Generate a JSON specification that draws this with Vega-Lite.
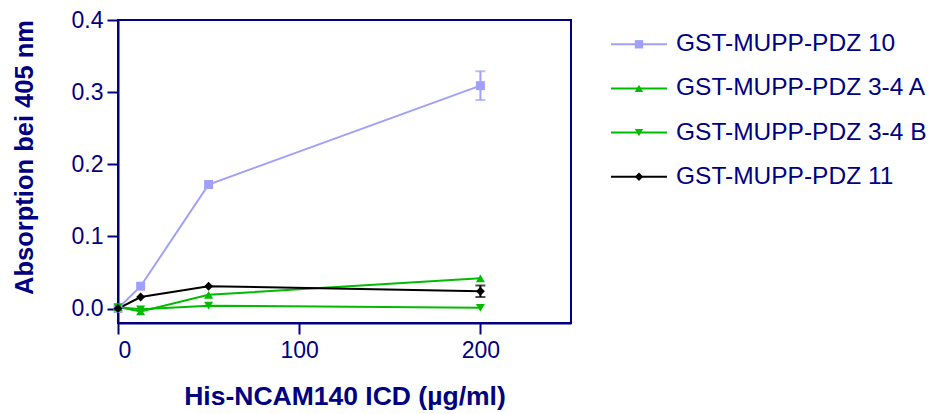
{
  "$schema": "https://vega.github.io/schema/vega-lite/v6.json",
  "padding": {"left": 11, "top": 8, "right": 5, "bottom": 2},
  "background": "white",
  "spacing": 38,
  "datasets": {
    "pts": [
      {"series": "GST-MUPP-PDZ 10", "conc": 0, "abs": 0.0},
      {"series": "GST-MUPP-PDZ 10", "conc": 12.5, "abs": 0.031},
      {"series": "GST-MUPP-PDZ 10", "conc": 50, "abs": 0.172},
      {"series": "GST-MUPP-PDZ 10", "conc": 200, "abs": 0.309},
      {"series": "GST-MUPP-PDZ 3-4 A", "conc": 0, "abs": 0.002},
      {"series": "GST-MUPP-PDZ 3-4 A", "conc": 12.5, "abs": -0.004},
      {"series": "GST-MUPP-PDZ 3-4 A", "conc": 50, "abs": 0.019},
      {"series": "GST-MUPP-PDZ 3-4 A", "conc": 200, "abs": 0.042},
      {"series": "GST-MUPP-PDZ 3-4 B", "conc": 0, "abs": 0.002},
      {"series": "GST-MUPP-PDZ 3-4 B", "conc": 12.5, "abs": -0.001},
      {"series": "GST-MUPP-PDZ 3-4 B", "conc": 50, "abs": 0.004},
      {"series": "GST-MUPP-PDZ 3-4 B", "conc": 200, "abs": 0.001},
      {"series": "GST-MUPP-PDZ 11", "conc": 0, "abs": 0.0},
      {"series": "GST-MUPP-PDZ 11", "conc": 12.5, "abs": 0.016},
      {"series": "GST-MUPP-PDZ 11", "conc": 50, "abs": 0.031},
      {"series": "GST-MUPP-PDZ 11", "conc": 200, "abs": 0.024}
    ],
    "errs": [
      {"series": "GST-MUPP-PDZ 10", "conc": 200, "lo": 0.289, "hi": 0.329},
      {"series": "GST-MUPP-PDZ 11", "conc": 200, "lo": 0.016, "hi": 0.032}
    ],
    "legend": [
      {"series": "GST-MUPP-PDZ 10"},
      {"series": "GST-MUPP-PDZ 3-4 A"},
      {"series": "GST-MUPP-PDZ 3-4 B"},
      {"series": "GST-MUPP-PDZ 11"}
    ]
  },
  "config": {
    "font": "Liberation Sans",
    "view": {"stroke": "#000080", "strokeWidth": 2},
    "axis": {
      "domainColor": "#000080", "domainWidth": 2,
      "tickColor": "#000080", "tickWidth": 2,
      "labelColor": "#000080", "labelFont": "Liberation Sans", "labelFontSize": 23,
      "titleColor": "#000080", "titleFont": "Liberation Sans", "titleFontSize": 25.5, "titleFontWeight": "bold",
      "grid": false
    }
  },
  "hconcat": [
    {
      "width": 453,
      "height": 303,
      "layer": [
        {
          "data": {"name": "pts"},
          "mark": {"type": "line", "strokeWidth": 2},
          "encoding": {
            "x": {"field": "conc", "type": "quantitative",
              "scale": {"domain": [0, 250], "nice": false},
              "axis": {"values": [0, 100, 200], "tickSize": 11, "labelPadding": 5, "title": "His-NCAM140 ICD (µg/ml)", "titleFontSize": 26.5, "titlePadding": 21}},
            "y": {"field": "abs", "type": "quantitative",
              "scale": {"domain": [-0.02, 0.4], "nice": false, "zero": false},
              "axis": {"values": [0, 0.1, 0.2, 0.3, 0.4], "format": ".1f", "tickSize": 11, "labelPadding": 4, "title": "Absorption bei 405 nm", "titlePadding": 34, "titleY": 137}},
            "color": {"field": "series", "type": "nominal",
              "scale": {"domain": ["GST-MUPP-PDZ 10", "GST-MUPP-PDZ 3-4 A", "GST-MUPP-PDZ 3-4 B", "GST-MUPP-PDZ 11"],
                        "range": ["#a0a0fa", "#00bb00", "#00bb00", "#000000"]},
              "legend": null},
            "detail": {"field": "series"}
          }
        },
        {
          "data": {"name": "errs"},
          "mark": {"type": "rule", "strokeWidth": 2},
          "encoding": {
            "x": {"field": "conc", "type": "quantitative"},
            "y": {"field": "lo", "type": "quantitative"},
            "y2": {"field": "hi"},
            "color": {"field": "series", "type": "nominal", "legend": null}
          }
        },
        {
          "data": {"name": "errs"},
          "mark": {"type": "tick", "orient": "horizontal", "size": 10, "thickness": 2},
          "encoding": {
            "x": {"field": "conc", "type": "quantitative"},
            "y": {"field": "lo", "type": "quantitative"},
            "color": {"field": "series", "type": "nominal", "legend": null}
          }
        },
        {
          "data": {"name": "errs"},
          "mark": {"type": "tick", "orient": "horizontal", "size": 10, "thickness": 2},
          "encoding": {
            "x": {"field": "conc", "type": "quantitative"},
            "y": {"field": "hi", "type": "quantitative"},
            "color": {"field": "series", "type": "nominal", "legend": null}
          }
        },
        {
          "data": {"name": "pts"},
          "mark": {"type": "point", "filled": true, "opacity": 1, "size": 80},
          "encoding": {
            "x": {"field": "conc", "type": "quantitative"},
            "y": {"field": "abs", "type": "quantitative"},
            "color": {"field": "series", "type": "nominal", "legend": null},
            "shape": {"field": "series", "type": "nominal",
              "scale": {"domain": ["GST-MUPP-PDZ 10", "GST-MUPP-PDZ 3-4 A", "GST-MUPP-PDZ 3-4 B", "GST-MUPP-PDZ 11"],
                        "range": ["square", "triangle-up", "triangle-down", "diamond"]},
              "legend": null}
          }
        }
      ]
    },
    {
      "width": 56,
      "height": 181,
      "view": {"stroke": null},
      "data": {"name": "legend"},
      "encoding": {
        "y": {"field": "series", "type": "nominal",
          "scale": {"type": "point", "padding": 0.55, "domain": ["GST-MUPP-PDZ 10", "GST-MUPP-PDZ 3-4 A", "GST-MUPP-PDZ 3-4 B", "GST-MUPP-PDZ 11"]},
          "axis": null},
        "color": {"field": "series", "type": "nominal",
          "scale": {"domain": ["GST-MUPP-PDZ 10", "GST-MUPP-PDZ 3-4 A", "GST-MUPP-PDZ 3-4 B", "GST-MUPP-PDZ 11"],
                    "range": ["#a0a0fa", "#00bb00", "#00bb00", "#000000"]},
          "legend": null}
      },
      "layer": [
        {
          "mark": {"type": "rule", "strokeWidth": 2},
          "encoding": {
            "x": {"datum": 0, "type": "quantitative", "scale": {"domain": [0, 1], "nice": false}, "axis": null},
            "x2": {"datum": 1}
          }
        },
        {
          "mark": {"type": "point", "filled": true, "opacity": 1, "size": 70},
          "encoding": {
            "x": {"datum": 0.5, "type": "quantitative"},
            "shape": {"field": "series", "type": "nominal",
              "scale": {"domain": ["GST-MUPP-PDZ 10", "GST-MUPP-PDZ 3-4 A", "GST-MUPP-PDZ 3-4 B", "GST-MUPP-PDZ 11"],
                        "range": ["square", "triangle-up", "triangle-down", "diamond"]},
              "legend": null}
          }
        },
        {
          "mark": {"type": "text", "align": "left", "baseline": "middle", "dx": 9, "fontSize": 24.5, "color": "#000080", "font": "Liberation Sans"},
          "encoding": {
            "x": {"datum": 1, "type": "quantitative"},
            "text": {"field": "series"},
            "color": {"value": "#000080"}
          }
        }
      ]
    }
  ]
}
